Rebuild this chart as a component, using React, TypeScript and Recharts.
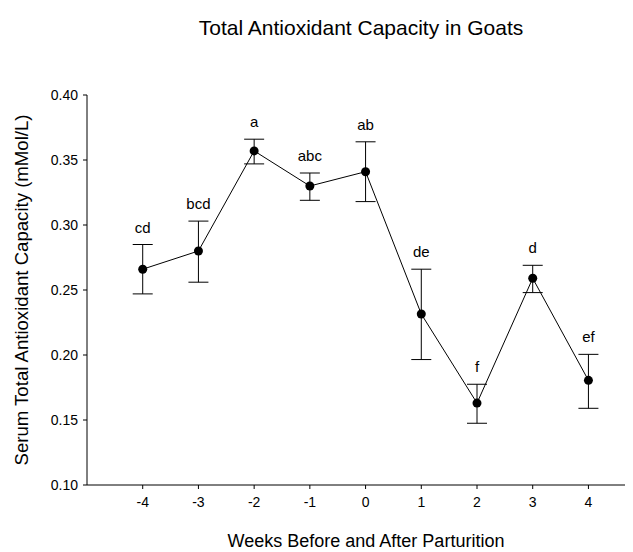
import React from "react";
import {
	LineChart,
	Line,
	XAxis,
	YAxis,
	ErrorBar,
	LabelList,
} from "recharts";

// values
const weeks = [-4, -3, -2, -1, 0, 1, 2, 3, 4];
const means = [0.266, 0.28, 0.357, 0.33, 0.341, 0.2315, 0.163, 0.259, 0.1805];
const errUp = [0.019, 0.023, 0.009, 0.01, 0.023, 0.0345, 0.0145, 0.01, 0.02];
const errDown = [0.019, 0.024, 0.01, 0.011, 0.023, 0.035, 0.0155, 0.011, 0.0215];
const letters = ["cd", "bcd", "a", "abc", "ab", "de", "f", "d", "ef"];
const yTicks = [0.1, 0.15, 0.2, 0.25, 0.3, 0.35, 0.4];

const data = weeks.map((w, i) => ({
	week: w,
	tac: means[i],
	err: [errDown[i], errUp[i]],
	capTop: means[i] + errUp[i],
	letter: letters[i],
}));

const FONT = "'Liberation Sans', Arial, Helvetica, sans-serif";

function YLabel(props: any) {
	const vb = props.viewBox;
	const cx = vb.x + 13;
	const cy = vb.y + vb.height / 2;
	return (
		<text
			x={cx}
			y={cy}
			transform={`rotate(-90, ${cx}, ${cy})`}
			textAnchor="middle"
			dominantBaseline="central"
			fontSize={18.6}
			fill="#000">
			Serum Total Antioxidant Capacity (mMol/L)
		</text>
	);
}

function XLabel(props: any) {
	const vb = props.viewBox;
	return (
		<text
			x={vb.x + vb.width / 2 + 6}
			y={vb.y + 56}
			textAnchor="middle"
			dominantBaseline="central"
			fontSize={18}
			fill="#000">
			Weeks Before and After Parturition
		</text>
	);
}

export default function App() {
	return (
		<div style={{ position: "relative", width: 625, height: 544, fontFamily: FONT, background: "#fff" }}>
			<div
				style={{
					position: "absolute",
					top: 9,
					left: 0,
					width: 706,
					textAlign: "center",
					fontSize: 21,
					lineHeight: "22px",
					color: "#000",
				}}>
				Total Antioxidant Capacity in Goats
			</div>
			<LineChart
				width={625}
				height={544}
				data={data}
				margin={{ top: 87, right: 0, bottom: 0, left: 0 }}>
				<XAxis
					dataKey="week"
					type="number"
					domain={[-5, 4.8]}
					ticks={weeks}
					allowDataOverflow
					height={67}
					stroke="#000"
					tickSize={4}
					tickMargin={8}
					tick={{ fill: "#000", fontSize: 14 }}
					label={<XLabel />}
				/>
				<YAxis
					domain={[0.1, 0.4]}
					ticks={yTicks}
					allowDataOverflow
					width={79}
					stroke="#000"
					tickSize={4}
					tickMargin={5}
					tickFormatter={(v: number) => v.toFixed(2)}
					tick={{ fill: "#000", fontSize: 14 }}
					label={<YLabel />}
				/>
				<Line
					dataKey="tac"
					stroke="#000"
					strokeWidth={1}
					dot={{ r: 4.5, fill: "#000", stroke: "#000", strokeWidth: 0 }}
					activeDot={false}
					isAnimationActive={false}>
					<ErrorBar
						dataKey="err"
						direction="y"
						width={10}
						stroke="#000"
						strokeWidth={1}
						isAnimationActive={false}
					/>
				</Line>
				<Line
					dataKey="capTop"
					stroke="none"
					dot={false}
					activeDot={false}
					legendType="none"
					isAnimationActive={false}>
					<LabelList
						dataKey="letter"
						position="top"
						offset={12}
						fill="#000"
						fontSize={15}
					/>
				</Line>
			</LineChart>
		</div>
	);
}
